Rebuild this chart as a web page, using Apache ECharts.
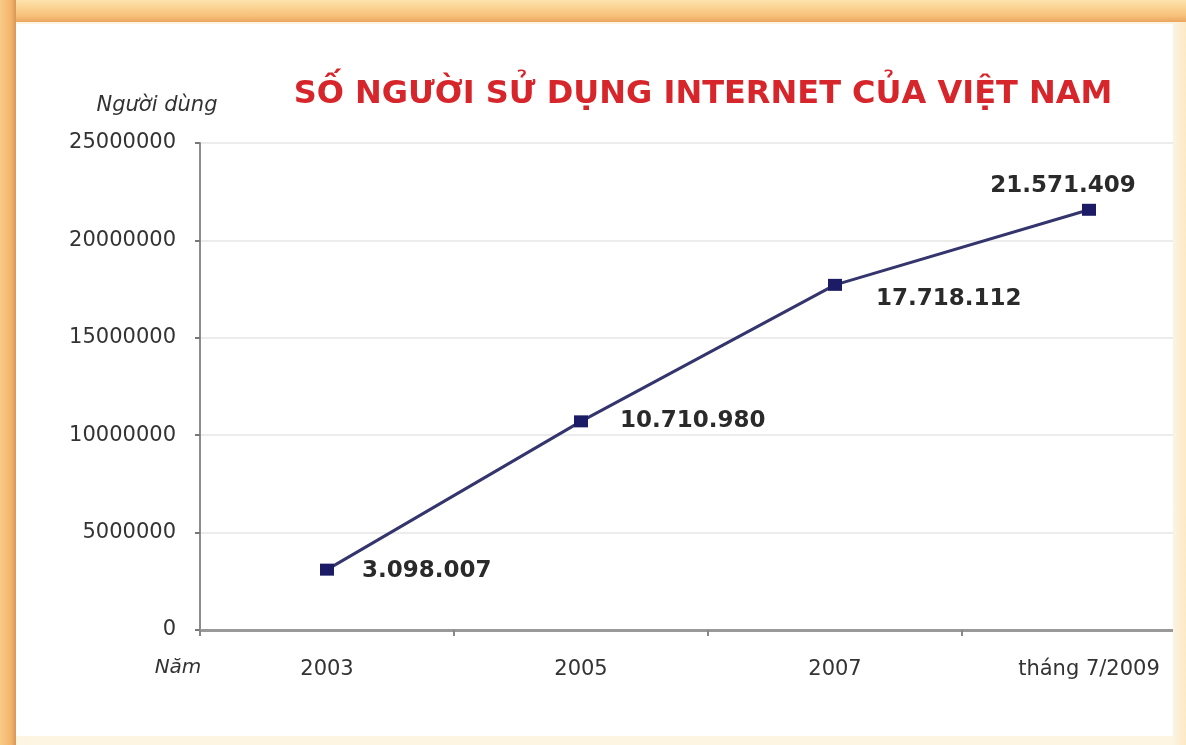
<!DOCTYPE html>
<html>
<head>
<meta charset="utf-8">
<script src="https://cdn.jsdelivr.net/npm/echarts@6/dist/echarts.min.js"></script>
<style>
  html, body { margin: 0; padding: 0; }
  body { width: 1186px; height: 745px; position: relative; overflow: hidden; background: #fdf4e2; }
  .frameTop { position: absolute; left: 0; top: 0; width: 1186px; height: 22px;
    background: linear-gradient(#fde3ac, #f7c27a 70%, #eaa660); }
  .frameLeft { position: absolute; left: 0; top: 0; width: 16px; height: 745px;
    background: linear-gradient(90deg, #f8cb86, #f2b46c 70%, #d99654); }
  .frameRight { position: absolute; left: 1173px; top: 22px; width: 13px; height: 723px;
    background: linear-gradient(90deg, #fbf3e2, #fde9c4); }
  .chartBox { position: absolute; left: 16px; top: 24px; width: 1157px; height: 712px;
    background: #ffffff; overflow: hidden; }
</style>
</head>
<body>
<div class="frameTop"></div>
<div class="frameLeft"></div>
<div class="frameRight"></div>
<div id="main" class="chartBox"></div>
<script>
// du lieu bieu do
const years = ["2003", "2005", "2007", "tháng 7/2009"];
const users = [3098007, 10710980, 17718112, 21571409];
const yMin = 0;
const yMax = 25000000;
const yStep = 5000000;

// vi tri nhan so lieu (chi la kieu trinh bay)
const labelPlace = [
  { position: "right", distance: 28, offset: [0, 1] },
  { position: "right", distance: 32, offset: [0, 0] },
  { position: "right", distance: 34, offset: [0, 14] },
  { position: "top", distance: 6, offset: [-26, 0] },
];

function fmt(v) {
  return String(v).replace(/\B(?=(\d{3})+(?!\d))/g, ".");
}

const chart = echarts.init(document.getElementById("main"), null, { renderer: "canvas" });

chart.setOption({
  animation: false,
  backgroundColor: "#ffffff",
  title: {
    text: "SỐ NGƯỜI SỬ DỤNG INTERNET CỦA VIỆT NAM",
    left: 682,
    top: 50,
    textAlign: "center",
    textStyle: {
      color: "#d6262b",
      fontFamily: "DejaVu Sans",
      fontWeight: "bold",
      fontSize: 32,
    },
  },
  graphic: [
    {
      type: "text",
      x: 141,
      y: 82,
      style: {
        text: "Người dùng",
        align: "center",
        verticalAlign: "middle",
        fill: "#333",
        fontFamily: "DejaVu Sans",
        fontStyle: "italic",
        fontSize: 21,
      },
    },
    {
      type: "text",
      x: 162,
      y: 644,
      style: {
        text: "Năm",
        align: "center",
        verticalAlign: "middle",
        fill: "#333",
        fontFamily: "DejaVu Sans",
        fontStyle: "italic",
        fontSize: 20,
      },
    },
  ],
  grid: {
    left: 184,
    top: 119,
    bottom: 106,
    right: -43,
    containLabel: false,
    outerBoundsMode: "none",
  },
  xAxis: {
    type: "category",
    data: years,
    boundaryGap: true,
    axisLine: { lineStyle: { color: "#999", width: 3 } },
    axisTick: { show: true, length: 6, lineStyle: { color: "#888", width: 2 } },
    axisLabel: {
      margin: 29,
      color: "#333",
      fontFamily: "DejaVu Sans",
      fontSize: 21,
    },
    splitLine: { show: false },
  },
  yAxis: {
    type: "value",
    min: yMin,
    max: yMax,
    interval: yStep,
    axisLine: { show: true, lineStyle: { color: "#8c8c8c", width: 2 } },
    axisTick: { show: true, length: 5, lineStyle: { color: "#777", width: 2 } },
    axisLabel: {
      margin: 24,
      color: "#333",
      fontFamily: "DejaVu Sans",
      fontSize: 21,
      formatter: (v) => String(v),
    },
    splitLine: { show: true, lineStyle: { color: "#ececec", width: 2 } },
  },
  series: [
    {
      type: "line",
      data: users.map((v, i) => ({
        value: v,
        label: {
          position: labelPlace[i].position,
          distance: labelPlace[i].distance,
          offset: labelPlace[i].offset,
        },
      })),
      symbol: "rect",
      symbolSize: [14, 12],
      itemStyle: { color: "#1c1c66" },
      lineStyle: { color: "#35356e", width: 3 },
      label: {
        show: true,
        formatter: (p) => fmt(p.value),
        color: "#2a2a2a",
        fontFamily: "DejaVu Sans",
        fontWeight: "bold",
        fontSize: 23,
      },
    },
  ],
});
</script>
</body>
</html>
